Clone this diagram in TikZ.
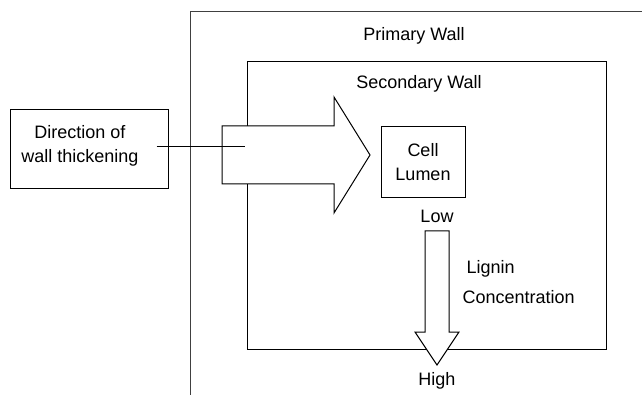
\documentclass[tikz,border=0pt]{standalone}
\usepackage{fontspec}
\setmainfont{Liberation Sans}
\usetikzlibrary{positioning,calc}

\begin{document}
\begin{tikzpicture}[x=1pt, y=-1pt, line width=1pt,
  every node/.style={font=\fontsize{18}{24}\selectfont, inner sep=0pt, align=center}]
  \useasboundingbox (0,0) rectangle (642,395);

  % Walls
  \draw [black!75] (190,395) -- (190,12) -- (642,12);
  \node (pw) at (414,36) {Primary Wall};
  \node [draw, rectangle, minimum width=359pt, minimum height=287pt] (sw) at (426.5,205.5) {};
  \node (swtext) at (419,84) {Secondary Wall};

  % Nodes
  \node [draw, rectangle, minimum width=158pt, minimum height=79pt] (dir) at (89,149.5) {};
  \node [xshift=-9pt, yshift=3.5pt] (dirtext) at (dir.center) {Direction of\\wall thickening};
  \node [draw, rectangle, minimum width=84pt, minimum height=71pt] (lumen) at (423,162.5) {Cell\\Lumen};
  \node (low) at (437,216) {Low};
  \node (high) at (437,381) {High};
  \node [anchor=west] (lignin) at (466,269) {Lignin};
  \node [anchor=west] (conc) at (462,297) {Concentration};

  % Arrows
  \draw [fill=white] (222,126) -- (334,126) -- (334,97) -- (370,155)
    -- (334,213) -- (334,184) -- (222,184) -- cycle;
  \draw [fill=white] (425,231) -- (449,231) -- (449,332) -- (459,332)
    -- (437,365) -- (415,332) -- (425,332) -- cycle;

  % Leader
  \coordinate (leadin) at ([shift={(-12pt,2.5pt)}]dir.east);
  \coordinate (leadout) at (245,147);
  \draw (leadin) -- (leadout);
\end{tikzpicture}
\end{document}
